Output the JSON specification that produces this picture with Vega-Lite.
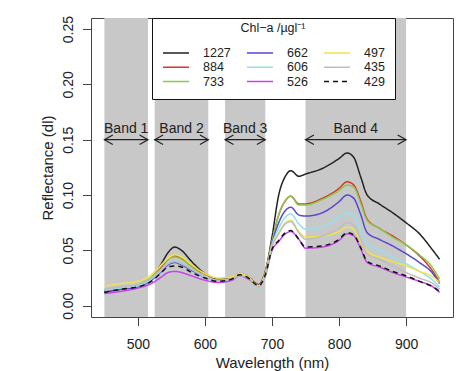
{
  "$schema": "https://vega.github.io/schema/vega-lite/v6.json",
  "width": 362,
  "height": 299,
  "autosize": "none",
  "padding": {"left": 91, "top": 18, "right": 9, "bottom": 54},
  "background": "white",
  "config": {
    "font": "Liberation Sans",
    "view": {"stroke": "#444444", "strokeWidth": 1},
    "axis": {"grid": false, "domain": false, "tickColor": "#444444", "tickSize": 8.5, "labelColor": "#222222", "titleColor": "#222222", "labelFontSize": 14, "titleFontSize": 15, "titleFontWeight": "normal", "labelFont": "Liberation Sans", "titleFont": "Liberation Sans"}
  },
  "datasets": {
    "bands": [
      {"start": 450, "end": 515, "mid": 482.5, "label": "Band 1"},
      {"start": 525, "end": 605, "mid": 565, "label": "Band 2"},
      {"start": 630, "end": 690, "mid": 660, "label": "Band 3"},
      {"start": 750, "end": 900, "mid": 825, "label": "Band 4"}
    ],
    "spectra": [
      {"c":"1227","w":450,"r":0.013},{"c":"1227","w":475,"r":0.015},{"c":"1227","w":500,"r":0.018},{"c":"1227","w":520,"r":0.025},{"c":"1227","w":535,"r":0.038},{"c":"1227","w":545,"r":0.048},{"c":"1227","w":555,"r":0.053},{"c":"1227","w":565,"r":0.050},{"c":"1227","w":580,"r":0.040},{"c":"1227","w":600,"r":0.029},{"c":"1227","w":620,"r":0.024},{"c":"1227","w":640,"r":0.025},{"c":"1227","w":652,"r":0.029},{"c":"1227","w":665,"r":0.026},{"c":"1227","w":680,"r":0.019},{"c":"1227","w":690,"r":0.031},{"c":"1227","w":700,"r":0.062},{"c":"1227","w":710,"r":0.100},{"c":"1227","w":720,"r":0.117},{"c":"1227","w":728,"r":0.122},{"c":"1227","w":740,"r":0.117},{"c":"1227","w":750,"r":0.119},{"c":"1227","w":775,"r":0.124},{"c":"1227","w":800,"r":0.133},{"c":"1227","w":812,"r":0.138},{"c":"1227","w":822,"r":0.134},{"c":"1227","w":832,"r":0.117},{"c":"1227","w":842,"r":0.100},{"c":"1227","w":860,"r":0.092},{"c":"1227","w":880,"r":0.084},{"c":"1227","w":900,"r":0.075},{"c":"1227","w":920,"r":0.065},{"c":"1227","w":940,"r":0.050},{"c":"1227","w":950,"r":0.042},
      {"c":"884","w":450,"r":0.013},{"c":"884","w":475,"r":0.015},{"c":"884","w":500,"r":0.018},{"c":"884","w":520,"r":0.025},{"c":"884","w":535,"r":0.035},{"c":"884","w":545,"r":0.042},{"c":"884","w":555,"r":0.045},{"c":"884","w":565,"r":0.043},{"c":"884","w":580,"r":0.036},{"c":"884","w":600,"r":0.028},{"c":"884","w":620,"r":0.023},{"c":"884","w":640,"r":0.025},{"c":"884","w":652,"r":0.029},{"c":"884","w":665,"r":0.026},{"c":"884","w":680,"r":0.019},{"c":"884","w":690,"r":0.030},{"c":"884","w":700,"r":0.058},{"c":"884","w":710,"r":0.082},{"c":"884","w":720,"r":0.095},{"c":"884","w":728,"r":0.099},{"c":"884","w":740,"r":0.092},{"c":"884","w":750,"r":0.092},{"c":"884","w":775,"r":0.097},{"c":"884","w":800,"r":0.106},{"c":"884","w":812,"r":0.112},{"c":"884","w":822,"r":0.109},{"c":"884","w":832,"r":0.095},{"c":"884","w":842,"r":0.078},{"c":"884","w":860,"r":0.070},{"c":"884","w":880,"r":0.063},{"c":"884","w":900,"r":0.055},{"c":"884","w":920,"r":0.045},{"c":"884","w":940,"r":0.031},{"c":"884","w":950,"r":0.021},
      {"c":"733","w":450,"r":0.014},{"c":"733","w":475,"r":0.016},{"c":"733","w":500,"r":0.019},{"c":"733","w":520,"r":0.026},{"c":"733","w":535,"r":0.036},{"c":"733","w":545,"r":0.042},{"c":"733","w":555,"r":0.044},{"c":"733","w":565,"r":0.042},{"c":"733","w":580,"r":0.035},{"c":"733","w":600,"r":0.027},{"c":"733","w":620,"r":0.023},{"c":"733","w":640,"r":0.025},{"c":"733","w":652,"r":0.029},{"c":"733","w":665,"r":0.026},{"c":"733","w":680,"r":0.018},{"c":"733","w":690,"r":0.030},{"c":"733","w":700,"r":0.058},{"c":"733","w":710,"r":0.082},{"c":"733","w":720,"r":0.095},{"c":"733","w":728,"r":0.099},{"c":"733","w":740,"r":0.091},{"c":"733","w":750,"r":0.091},{"c":"733","w":775,"r":0.096},{"c":"733","w":800,"r":0.104},{"c":"733","w":812,"r":0.109},{"c":"733","w":822,"r":0.107},{"c":"733","w":832,"r":0.093},{"c":"733","w":842,"r":0.077},{"c":"733","w":860,"r":0.070},{"c":"733","w":880,"r":0.062},{"c":"733","w":900,"r":0.055},{"c":"733","w":920,"r":0.046},{"c":"733","w":940,"r":0.034},{"c":"733","w":950,"r":0.024},
      {"c":"662","w":450,"r":0.012},{"c":"662","w":475,"r":0.015},{"c":"662","w":500,"r":0.017},{"c":"662","w":520,"r":0.023},{"c":"662","w":535,"r":0.031},{"c":"662","w":545,"r":0.037},{"c":"662","w":555,"r":0.039},{"c":"662","w":565,"r":0.037},{"c":"662","w":580,"r":0.032},{"c":"662","w":600,"r":0.026},{"c":"662","w":620,"r":0.022},{"c":"662","w":640,"r":0.024},{"c":"662","w":652,"r":0.028},{"c":"662","w":665,"r":0.025},{"c":"662","w":680,"r":0.017},{"c":"662","w":690,"r":0.028},{"c":"662","w":700,"r":0.056},{"c":"662","w":710,"r":0.075},{"c":"662","w":720,"r":0.086},{"c":"662","w":728,"r":0.089},{"c":"662","w":740,"r":0.082},{"c":"662","w":750,"r":0.081},{"c":"662","w":775,"r":0.084},{"c":"662","w":800,"r":0.094},{"c":"662","w":812,"r":0.100},{"c":"662","w":822,"r":0.097},{"c":"662","w":832,"r":0.083},{"c":"662","w":842,"r":0.066},{"c":"662","w":860,"r":0.060},{"c":"662","w":880,"r":0.054},{"c":"662","w":900,"r":0.047},{"c":"662","w":920,"r":0.039},{"c":"662","w":940,"r":0.029},{"c":"662","w":950,"r":0.020},
      {"c":"606","w":450,"r":0.014},{"c":"606","w":475,"r":0.016},{"c":"606","w":500,"r":0.018},{"c":"606","w":520,"r":0.024},{"c":"606","w":535,"r":0.032},{"c":"606","w":545,"r":0.038},{"c":"606","w":555,"r":0.040},{"c":"606","w":565,"r":0.038},{"c":"606","w":580,"r":0.033},{"c":"606","w":600,"r":0.026},{"c":"606","w":620,"r":0.022},{"c":"606","w":640,"r":0.024},{"c":"606","w":652,"r":0.028},{"c":"606","w":665,"r":0.025},{"c":"606","w":680,"r":0.016},{"c":"606","w":690,"r":0.027},{"c":"606","w":700,"r":0.055},{"c":"606","w":710,"r":0.070},{"c":"606","w":720,"r":0.080},{"c":"606","w":728,"r":0.083},{"c":"606","w":740,"r":0.074},{"c":"606","w":750,"r":0.069},{"c":"606","w":775,"r":0.071},{"c":"606","w":800,"r":0.080},{"c":"606","w":812,"r":0.084},{"c":"606","w":822,"r":0.081},{"c":"606","w":832,"r":0.068},{"c":"606","w":842,"r":0.056},{"c":"606","w":860,"r":0.050},{"c":"606","w":880,"r":0.044},{"c":"606","w":900,"r":0.038},{"c":"606","w":920,"r":0.031},{"c":"606","w":940,"r":0.023},{"c":"606","w":950,"r":0.017},
      {"c":"526","w":450,"r":0.011},{"c":"526","w":475,"r":0.013},{"c":"526","w":500,"r":0.016},{"c":"526","w":520,"r":0.020},{"c":"526","w":535,"r":0.026},{"c":"526","w":545,"r":0.030},{"c":"526","w":555,"r":0.031},{"c":"526","w":565,"r":0.030},{"c":"526","w":580,"r":0.027},{"c":"526","w":600,"r":0.023},{"c":"526","w":620,"r":0.021},{"c":"526","w":640,"r":0.023},{"c":"526","w":652,"r":0.027},{"c":"526","w":665,"r":0.024},{"c":"526","w":680,"r":0.018},{"c":"526","w":690,"r":0.027},{"c":"526","w":700,"r":0.050},{"c":"526","w":710,"r":0.058},{"c":"526","w":720,"r":0.065},{"c":"526","w":728,"r":0.067},{"c":"526","w":740,"r":0.060},{"c":"526","w":750,"r":0.052},{"c":"526","w":775,"r":0.053},{"c":"526","w":800,"r":0.059},{"c":"526","w":812,"r":0.065},{"c":"526","w":822,"r":0.063},{"c":"526","w":832,"r":0.052},{"c":"526","w":842,"r":0.039},{"c":"526","w":860,"r":0.035},{"c":"526","w":880,"r":0.030},{"c":"526","w":900,"r":0.026},{"c":"526","w":920,"r":0.022},{"c":"526","w":940,"r":0.017},{"c":"526","w":950,"r":0.012},
      {"c":"497","w":450,"r":0.018},{"c":"497","w":475,"r":0.020},{"c":"497","w":500,"r":0.022},{"c":"497","w":520,"r":0.028},{"c":"497","w":535,"r":0.037},{"c":"497","w":545,"r":0.043},{"c":"497","w":555,"r":0.046},{"c":"497","w":565,"r":0.044},{"c":"497","w":580,"r":0.037},{"c":"497","w":600,"r":0.029},{"c":"497","w":620,"r":0.025},{"c":"497","w":640,"r":0.026},{"c":"497","w":652,"r":0.029},{"c":"497","w":665,"r":0.026},{"c":"497","w":680,"r":0.018},{"c":"497","w":690,"r":0.029},{"c":"497","w":700,"r":0.054},{"c":"497","w":710,"r":0.066},{"c":"497","w":720,"r":0.075},{"c":"497","w":728,"r":0.077},{"c":"497","w":740,"r":0.067},{"c":"497","w":750,"r":0.062},{"c":"497","w":775,"r":0.063},{"c":"497","w":800,"r":0.067},{"c":"497","w":812,"r":0.071},{"c":"497","w":822,"r":0.069},{"c":"497","w":832,"r":0.058},{"c":"497","w":842,"r":0.049},{"c":"497","w":860,"r":0.044},{"c":"497","w":880,"r":0.040},{"c":"497","w":900,"r":0.036},{"c":"497","w":920,"r":0.031},{"c":"497","w":940,"r":0.026},{"c":"497","w":950,"r":0.021},
      {"c":"435","w":450,"r":0.015},{"c":"435","w":475,"r":0.017},{"c":"435","w":500,"r":0.019},{"c":"435","w":520,"r":0.025},{"c":"435","w":535,"r":0.033},{"c":"435","w":545,"r":0.038},{"c":"435","w":555,"r":0.040},{"c":"435","w":565,"r":0.038},{"c":"435","w":580,"r":0.033},{"c":"435","w":600,"r":0.027},{"c":"435","w":620,"r":0.023},{"c":"435","w":640,"r":0.024},{"c":"435","w":652,"r":0.027},{"c":"435","w":665,"r":0.025},{"c":"435","w":680,"r":0.017},{"c":"435","w":690,"r":0.027},{"c":"435","w":700,"r":0.053},{"c":"435","w":710,"r":0.065},{"c":"435","w":720,"r":0.074},{"c":"435","w":728,"r":0.076},{"c":"435","w":740,"r":0.066},{"c":"435","w":750,"r":0.060},{"c":"435","w":775,"r":0.063},{"c":"435","w":800,"r":0.070},{"c":"435","w":812,"r":0.075},{"c":"435","w":822,"r":0.073},{"c":"435","w":832,"r":0.060},{"c":"435","w":842,"r":0.047},{"c":"435","w":860,"r":0.042},{"c":"435","w":880,"r":0.036},{"c":"435","w":900,"r":0.030},{"c":"435","w":920,"r":0.025},{"c":"435","w":940,"r":0.020},{"c":"435","w":950,"r":0.015},
      {"c":"429","w":450,"r":0.012},{"c":"429","w":475,"r":0.015},{"c":"429","w":500,"r":0.017},{"c":"429","w":520,"r":0.022},{"c":"429","w":535,"r":0.030},{"c":"429","w":545,"r":0.035},{"c":"429","w":555,"r":0.036},{"c":"429","w":565,"r":0.035},{"c":"429","w":580,"r":0.030},{"c":"429","w":600,"r":0.025},{"c":"429","w":620,"r":0.022},{"c":"429","w":640,"r":0.024},{"c":"429","w":652,"r":0.028},{"c":"429","w":665,"r":0.025},{"c":"429","w":680,"r":0.018},{"c":"429","w":690,"r":0.028},{"c":"429","w":700,"r":0.051},{"c":"429","w":710,"r":0.059},{"c":"429","w":720,"r":0.066},{"c":"429","w":728,"r":0.068},{"c":"429","w":740,"r":0.060},{"c":"429","w":750,"r":0.053},{"c":"429","w":775,"r":0.054},{"c":"429","w":800,"r":0.060},{"c":"429","w":812,"r":0.066},{"c":"429","w":822,"r":0.064},{"c":"429","w":832,"r":0.053},{"c":"429","w":842,"r":0.040},{"c":"429","w":860,"r":0.036},{"c":"429","w":880,"r":0.031},{"c":"429","w":900,"r":0.027},{"c":"429","w":920,"r":0.022},{"c":"429","w":940,"r":0.017},{"c":"429","w":950,"r":0.013}
    ]
  },
  "layer": [
    {
      "data": {"name": "bands"},
      "mark": {"type": "rect", "color": "#c8c8c8"},
      "encoding": {
        "x": {"field": "start", "type": "quantitative", "scale": {"domain": [430, 970], "nice": false, "zero": false}, "axis": {"values": [500, 600, 700, 800, 900], "title": "Wavelength (nm)", "labelPadding": 12, "titlePadding": 4}},
        "x2": {"field": "end"}
      }
    },
    {
      "data": {"name": "bands"},
      "mark": {"type": "rule", "color": "#222222", "strokeWidth": 1.2},
      "encoding": {
        "x": {"field": "start", "type": "quantitative"},
        "x2": {"field": "end"},
        "y": {"datum": 0.15, "type": "quantitative"}
      }
    },
    {
      "data": {"name": "bands"},
      "mark": {"type": "point", "shape": "M1.4,-0.8L0,0L1.4,0.8", "filled": false, "size": 144, "stroke": "#222222", "strokeWidth": 1.2, "opacity": 1},
      "encoding": {
        "x": {"field": "start", "type": "quantitative"},
        "y": {"datum": 0.15, "type": "quantitative"}
      }
    },
    {
      "data": {"name": "bands"},
      "mark": {"type": "point", "shape": "M-1.4,-0.8L0,0L-1.4,0.8", "filled": false, "size": 144, "stroke": "#222222", "strokeWidth": 1.2, "opacity": 1},
      "encoding": {
        "x": {"field": "end", "type": "quantitative"},
        "y": {"datum": 0.15, "type": "quantitative"}
      }
    },
    {
      "data": {"name": "bands"},
      "mark": {"type": "text", "fontSize": 14, "color": "#222222", "baseline": "middle", "align": "center"},
      "encoding": {
        "x": {"field": "mid", "type": "quantitative"},
        "y": {"datum": 0.16, "type": "quantitative"},
        "text": {"field": "label"}
      }
    },
    {
      "data": {"name": "spectra"},
      "mark": {"type": "line", "strokeWidth": 1.5, "interpolate": "monotone"},
      "encoding": {
        "x": {"field": "w", "type": "quantitative"},
        "y": {"field": "r", "type": "quantitative", "scale": {"domain": [-0.0102, 0.26], "nice": false, "zero": false}, "axis": {"values": [0, 0.05, 0.1, 0.15, 0.2, 0.25], "format": ".2f", "title": "Reflectance (dl)", "labelAngle": -90, "labelAlign": "center", "labelBaseline": "bottom", "labelPadding": 7, "titlePadding": 6}},
        "color": {
          "field": "c", "type": "nominal",
          "scale": {"domain": ["1227", "884", "733", "662", "606", "526", "497", "435", "429"], "range": ["#222222", "#d9352a", "#86cc4a", "#5647d6", "#8fe3f0", "#c940ee", "#f2e34a", "#bdbdbd", "#111111"]},
          "legend": {"title": "Chl−a /µgl⁻¹", "orient": "none", "legendX": 61, "legendY": 0, "columns": 3, "columnPadding": 13, "rowPadding": 0.3, "symbolType": "M-1,0L3,0", "symbolSize": 169, "symbolStrokeWidth": 1.5, "labelFontSize": 12.5, "titleFontSize": 12.5, "titleFontWeight": "normal", "titleAnchor": "middle", "titleBaseline": "middle", "titlePadding": 5, "labelOffset": 26, "padding": 10, "strokeColor": "#111111", "fillColor": "white", "labelColor": "#222222", "titleColor": "#222222"}
        },
        "strokeDash": {
          "field": "c", "type": "nominal",
          "scale": {"domain": ["1227", "884", "733", "662", "606", "526", "497", "435", "429"], "range": [[1, 0], [1, 0], [1, 0], [1, 0], [1, 0], [1, 0], [1, 0], [1, 0], [5, 4]]},
          "legend": {"title": "Chl−a /µgl⁻¹", "orient": "none", "legendX": 61, "legendY": 0, "columns": 3, "columnPadding": 13, "rowPadding": 0.3, "symbolType": "M-1,0L3,0", "symbolSize": 169, "symbolStrokeWidth": 1.5, "labelFontSize": 12.5, "titleFontSize": 12.5, "titleFontWeight": "normal", "titleAnchor": "middle", "titleBaseline": "middle", "titlePadding": 5, "labelOffset": 26, "padding": 10, "strokeColor": "#111111", "fillColor": "white", "labelColor": "#222222", "titleColor": "#222222"}
        }
      }
    }
  ]
}
